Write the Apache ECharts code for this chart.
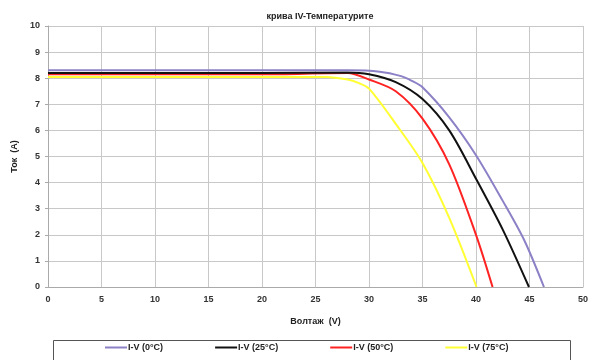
<!DOCTYPE html>
<html>
<head>
<meta charset="utf-8">
<script src="https://cdn.jsdelivr.net/npm/echarts@6/dist/echarts.min.js"></script>
<style>
  html, body { margin: 0; padding: 0; background: #fff; }
  #chart { width: 591px; height: 360px; }
</style>
</head>
<body>
<div id="chart"></div>
<script>
// [voltage (V), current (A)] points
const iv0 = [[0, 8.3], [10, 8.3], [20, 8.3], [28, 8.3], [31, 8.25], [33, 8.08], [34, 7.9], [35, 7.65], [37.5, 6.5], [40, 5.05], [42.5, 3.3], [44.5, 1.8], [46.35, 0]];
const iv25 = [[0, 8.2], [10, 8.2], [20, 8.2], [28, 8.22], [30, 8.15], [32.5, 7.85], [35, 7.2], [37.5, 6.0], [40, 4.15], [42.5, 2.2], [44.95, 0]];
const iv50 = [[0, 8.15], [10, 8.15], [20, 8.15], [28, 8.2], [30, 7.95], [32.5, 7.5], [35, 6.45], [37.5, 4.7], [40, 2.0], [41.55, 0]];
const iv75 = [[0, 8.05], [10, 8.05], [20, 8.05], [26, 8.05], [28, 7.95], [29, 7.82], [30, 7.6], [32.5, 6.25], [35, 4.75], [37.5, 2.65], [40.05, 0]];

const seriesNames = ['I-V (0°C)', 'I-V (25°C)', 'I-V (50°C)', 'I-V (75°C)'];
const seriesData = [iv0, iv25, iv50, iv75];
const colors = ['#8c80c6', '#111111', '#ff2222', '#ffff33'];

const chart = echarts.init(document.getElementById('chart'));
const font = 'Liberation Sans, Arial, sans-serif';

const option = {
  animation: false,
  textStyle: { fontFamily: font },
  title: {
    text: 'крива IV-Температурите',
    left: 315,
    textAlign: 'center',
    top: 7,
    textStyle: { fontSize: 9, fontWeight: 'bold', color: '#222' }
  },
  graphic: [{
    type: 'rect',
    left: 51, top: 338,
    shape: { width: 517, height: 20 },
    style: { fill: 'none', stroke: '#555', lineWidth: 1 }
  }],
  legend: {
    data: seriesNames,
    left: 105,
    top: 343,
    padding: 0,
    itemGap: 52,
    itemWidth: 22,
    itemHeight: 2,
    icon: 'rect',
    textStyle: { fontSize: 9, fontWeight: 'bold', color: '#222', padding: [0, 0, 0, -4] }
  },
  grid: { left: 48, right: 8, top: 26, bottom: 73 },
  xAxis: {
    type: 'value',
    min: 0, max: 50, interval: 5,
    name: 'Волтаж  (V)',
    nameLocation: 'middle',
    nameGap: 30,
    nameTextStyle: { fontSize: 9, fontWeight: 'bold', color: '#222' },
    axisLine: { lineStyle: { color: '#aaa' } },
    axisTick: { show: false },
    axisLabel: { fontSize: 9, fontWeight: 'bold', color: '#333', margin: 8 },
    splitLine: { lineStyle: { color: '#c8c8c8' } }
  },
  yAxis: {
    type: 'value',
    min: 0, max: 10, interval: 1,
    name: 'Ток  (A)',
    nameLocation: 'middle',
    nameGap: 24,
    nameTextStyle: { fontSize: 9, fontWeight: 'bold', color: '#222' },
    axisLine: { show: true, lineStyle: { color: '#aaa' } },
    axisTick: { show: true, length: 3, lineStyle: { color: '#aaa' } },
    axisLabel: { fontSize: 9, fontWeight: 'bold', color: '#333', margin: 8 },
    splitLine: { lineStyle: { color: '#c8c8c8' } }
  },
  series: seriesData.map((d, i) => ({
    name: seriesNames[i],
    type: 'line',
    data: d,
    smooth: 0.3,
    showSymbol: false,
    itemStyle: { color: colors[i] },
    lineStyle: { color: colors[i], width: 2 },
    z: 10 - i
  }))
};
chart.setOption(option);
</script>
</body>
</html>
